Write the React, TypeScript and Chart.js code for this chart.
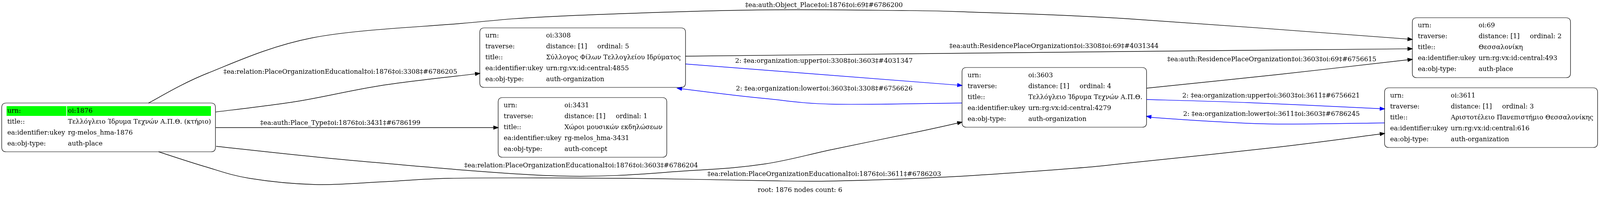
import React, { useEffect, useRef } from 'react';
import { Chart, registerables } from 'chart.js';

Chart.register(...registerables);

// ---------- data ----------
const rootId = '1876';
const nodesCount = 6;
const nodeIds = ['1876', '3308', '3431', '3603', '69', '3611'];
const nodeDistances = ['', '[1]', '[1]', '[1]', '[1]', '[1]'];
const nodeOrdinals = [0, 5, 1, 4, 2, 3];
const nodeTitles = [
  'Τελλόγλειο Ίδρυμα Τεχνών Α.Π.Θ. (κτήριο)',
  'Σύλλογος Φίλων Τελλογλείου Ιδρύματος',
  'Χώροι μουσικών εκδηλώσεων',
  'Τελλόγλειο Ίδρυμα Τεχνών Α.Π.Θ.',
  'Θεσσαλονίκη',
  'Αριστοτέλειο Πανεπιστήμιο Θεσσαλονίκης',
];
const nodeUkeys = [
  'rg-melos_hma-1876',
  'urn:rg:vx:id:central:4855',
  'rg-melos_hma-3431',
  'urn:rg:vx:id:central:4279',
  'urn:rg:vx:id:central:493',
  'urn:rg:vx:id:central:616',
];
const nodeTypes = ['auth-place', 'auth-organization', 'auth-concept', 'auth-organization', 'auth-place', 'auth-organization'];

const edgeFrom = ['1876', '3308', '3308', '3603', '1876', '1876', '1876', '1876', '3603', '3603', '3611'];
const edgeTo = ['69', '69', '3603', '3308', '3308', '3431', '3603', '3611', '69', '3611', '3603'];
const edgeRels = [
  'ea:auth:Object_Place',
  'ea:auth:ResidencePlaceOrganization',
  'ea:organization:upper',
  'ea:organization:lower',
  'ea:relation:PlaceOrganizationEducational',
  'ea:auth:Place_Type',
  'ea:relation:PlaceOrganizationEducational',
  'ea:relation:PlaceOrganizationEducational',
  'ea:auth:ResidencePlaceOrganization',
  'ea:organization:upper',
  'ea:organization:lower',
];
const edgeNums = ['6786200', '4031344', '4031347', '6756626', '6786205', '6786199', '6786204', '6786203', '6756615', '6756621', '6786245'];
const edgeLevels = ['', '', '2', '2', '', '', '', '', '', '2', '2'];

// ---------- layout (drawing coordinates, 4612 x 510 space) ----------
const W = 4612;
const H = 510;
const FONT_SIZE = 18.67;
const nodeBoxes = [
  [5, 264, 621, 389],
  [1383, 71.5, 1976, 224],
  [1436, 250, 1922, 403],
  [2773, 173, 3305, 326],
  [4071, 45.5, 4527, 199],
  [3991, 225, 4605, 378],
];
const edgePaths: number[][][] = [
  [[428, 264], [600, 187], [900, 97], [1330, 60], [1600, 42], [2150, 26], [2600, 27], [2800, 31], [3250, 48], [4071, 101]],
  [[1976, 144], [2600, 138], [3250, 132], [4071, 125]],
  [[1976, 164], [2773, 219]],
  [[2773, 264], [2400, 267], [2212, 253], [2097, 242], [1952, 226]],
  [[622, 287], [855, 260], [1100, 219], [1383, 188]],
  [[622, 327], [1436, 327]],
  [[623, 375], [1038, 413], [1612, 451], [1994, 437], [2206, 420], [2400, 383], [2650, 337], [2773, 313]],
  [[457, 389], [591, 427], [719, 457], [910, 473], [1101, 466], [1293, 457], [1600, 456], [1900, 458], [2200, 463], [2400, 464], [2742, 453], [3100, 431], [3250, 418], [3684, 377], [3991, 342]],
  [[3305, 226], [3684, 191], [4071, 152]],
  [[3305, 255], [3597, 263], [3991, 279]],
  [[3991, 315], [3684, 318], [3511, 312], [3337, 302], [3305, 298]],
];
const edgeLabelPos = [
  [2375, 14], [3038, 119], [2375, 157], [2376, 228], [981, 185], [981, 316],
  [1675, 425], [2376, 447], [3666, 153], [3664, 246], [3665, 293],
];
const footerPos = [2306, 488];

const edgeColor = (i: number) => (edgeLevels[i] ? '#0000ff' : '#000000');
const edgeLabel = (i: number) =>
  `${edgeLevels[i] ? edgeLevels[i] + ': ' : ''}‡${edgeRels[i]}‡oi:${edgeFrom[i]}‡oi:${edgeTo[i]}‡#${edgeNums[i]}`;

function roundRect(ctx: CanvasRenderingContext2D, x0: number, y0: number, x1: number, y1: number, r: number) {
  ctx.beginPath();
  ctx.moveTo(x0 + r, y0);
  ctx.lineTo(x1 - r, y0);
  ctx.quadraticCurveTo(x1, y0, x1, y0 + r);
  ctx.lineTo(x1, y1 - r);
  ctx.quadraticCurveTo(x1, y1, x1 - r, y1);
  ctx.lineTo(x0 + r, y1);
  ctx.quadraticCurveTo(x0, y1, x0, y1 - r);
  ctx.lineTo(x0, y0 + r);
  ctx.quadraticCurveTo(x0, y0, x0 + r, y0);
  ctx.closePath();
}

function drawSpline(ctx: CanvasRenderingContext2D, pts: number[][]) {
  ctx.beginPath();
  ctx.moveTo(pts[0][0], pts[0][1]);
  for (let i = 0; i < pts.length - 1; i++) {
    const p0 = pts[Math.max(0, i - 1)];
    const p1 = pts[i];
    const p2 = pts[i + 1];
    const p3 = pts[Math.min(pts.length - 1, i + 2)];
    const c1x = p1[0] + (p2[0] - p0[0]) / 6;
    const c1y = p1[1] + (p2[1] - p0[1]) / 6;
    const c2x = p2[0] - (p3[0] - p1[0]) / 6;
    const c2y = p2[1] - (p3[1] - p1[1]) / 6;
    ctx.bezierCurveTo(c1x, c1y, c2x, c2y, p2[0], p2[1]);
  }
  ctx.stroke();
}

const graphPlugin = {
  id: 'graphDraw',
  beforeDraw(chart: any) {
    const ctx = chart.ctx as CanvasRenderingContext2D;
    ctx.save();
    ctx.fillStyle = '#ffffff';
    ctx.fillRect(0, 0, chart.width, chart.height);
    ctx.restore();
  },
  afterDatasetsDraw(chart: any) {
    const ctx = chart.ctx as CanvasRenderingContext2D;
    const xs = chart.scales.x;
    const ys = chart.scales.y;
    const px = (v: number) => xs.getPixelForValue(v);
    const py = (v: number) => ys.getPixelForValue(v);
    const sx = Math.abs(px(1000) - px(0)) / 1000;
    const sy = Math.abs(py(100) - py(0)) / 100;
    const s = Math.min(sx, sy);
    const font = `${FONT_SIZE * s}px 'DejaVu Serif'`;
    ctx.save();

    // edges
    edgePaths.forEach((path, i) => {
      const pts = path.map((p) => [px(p[0]), py(p[1])]);
      const tip = pts[pts.length - 1];
      const prev = pts[pts.length - 2];
      let dx = tip[0] - prev[0];
      let dy = tip[1] - prev[1];
      const len = Math.hypot(dx, dy) || 1;
      dx /= len;
      dy /= len;
      const aLen = 13 * s;
      const aHalf = 4.8 * s;
      const base = [tip[0] - dx * aLen, tip[1] - dy * aLen];
      const linePts = pts.slice(0, -1).concat([base]);
      ctx.strokeStyle = edgeColor(i);
      ctx.fillStyle = edgeColor(i);
      ctx.lineWidth = 1.6 * s;
      drawSpline(ctx, linePts);
      ctx.beginPath();
      ctx.moveTo(tip[0], tip[1]);
      ctx.lineTo(base[0] - dy * aHalf, base[1] + dx * aHalf);
      ctx.lineTo(base[0] + dy * aHalf, base[1] - dx * aHalf);
      ctx.closePath();
      ctx.fill();
      ctx.stroke();
    });

    // edge labels
    ctx.font = font;
    ctx.fillStyle = '#000000';
    ctx.textAlign = 'center';
    ctx.textBaseline = 'middle';
    edgeLabelPos.forEach((p, i) => {
      ctx.fillText(edgeLabel(i), px(p[0]), py(p[1]));
    });
    ctx.fillText(`root: ${rootId} nodes count: ${nodesCount}`, px(footerPos[0]), py(footerPos[1]));

    // nodes
    nodeIds.forEach((id, i) => {
      const b = nodeBoxes[i];
      const x0 = px(b[0]);
      const y0 = py(b[1]);
      const x1 = px(b[2]);
      const y1 = py(b[3]);
      const isRoot = id === rootId;
      const rows: [string, string, string?][] = [['urn:', 'oi:' + id]];
      if (!isRoot) rows.push(['traverse:', 'distance: ' + nodeDistances[i], 'ordinal: ' + nodeOrdinals[i]]);
      rows.push(['title::', nodeTitles[i]]);
      rows.push(['ea:identifier:ukey', nodeUkeys[i]]);
      rows.push(['ea:obj-type:', nodeTypes[i]]);
      const labelX = x0 + 16 * sx;
      const valueX = x0 + 191 * sx;
      if (isRoot) {
        ctx.fillStyle = '#00ff00';
        const ry = y0 + 20.5 * sy;
        ctx.fillRect(x0 + 14 * sx, ry - 12.5 * sy, 172 * sx, 25 * sy);
        ctx.fillRect(x0 + 188 * sx, ry - 12.5 * sy, x1 - 13 * sx - (x0 + 188 * sx), 25 * sy);
      }
      ctx.fillStyle = '#000000';
      ctx.textAlign = 'left';
      rows.forEach((r, k) => {
        const ry = y0 + (20.5 + 28 * k) * sy;
        ctx.fillText(r[0], labelX, ry);
        ctx.fillText(r[1], valueX, ry);
        if (r[2]) ctx.fillText(r[2], valueX + 148 * sx, ry);
      });
      ctx.strokeStyle = '#000000';
      ctx.lineWidth = 1.4 * s;
      roundRect(ctx, x0, y0, x1, y1, 13 * s);
      ctx.stroke();
    });

    ctx.restore();
  },
};

export default function App() {
  const ref = useRef<HTMLCanvasElement>(null);
  useEffect(() => {
    document.body.style.margin = '0';
    document.body.style.overflow = 'hidden';
    const canvas = ref.current;
    if (!canvas) return;
    const chart = new Chart(canvas, {
      type: 'scatter',
      data: {
        datasets: [
          {
            data: nodeIds.map((_, i) => ({
              x: (nodeBoxes[i][0] + nodeBoxes[i][2]) / 2,
              y: (nodeBoxes[i][1] + nodeBoxes[i][3]) / 2,
            })),
            pointRadius: 0,
            showLine: false,
          },
        ],
      },
      options: {
        animation: false,
        responsive: true,
        maintainAspectRatio: false,
        events: [],
        layout: { padding: 0 },
        plugins: { legend: { display: false }, tooltip: { enabled: false }, title: { display: false } },
        scales: {
          x: { type: 'linear', min: 0, max: W, display: false },
          y: { type: 'linear', min: 0, max: H, reverse: true, display: false },
        },
      },
      plugins: [graphPlugin],
    });
    return () => chart.destroy();
  }, []);
  return (
    <div style={{ position: 'relative', width: '100vw', height: '100vh' }}>
      <canvas ref={ref} />
    </div>
  );
}
